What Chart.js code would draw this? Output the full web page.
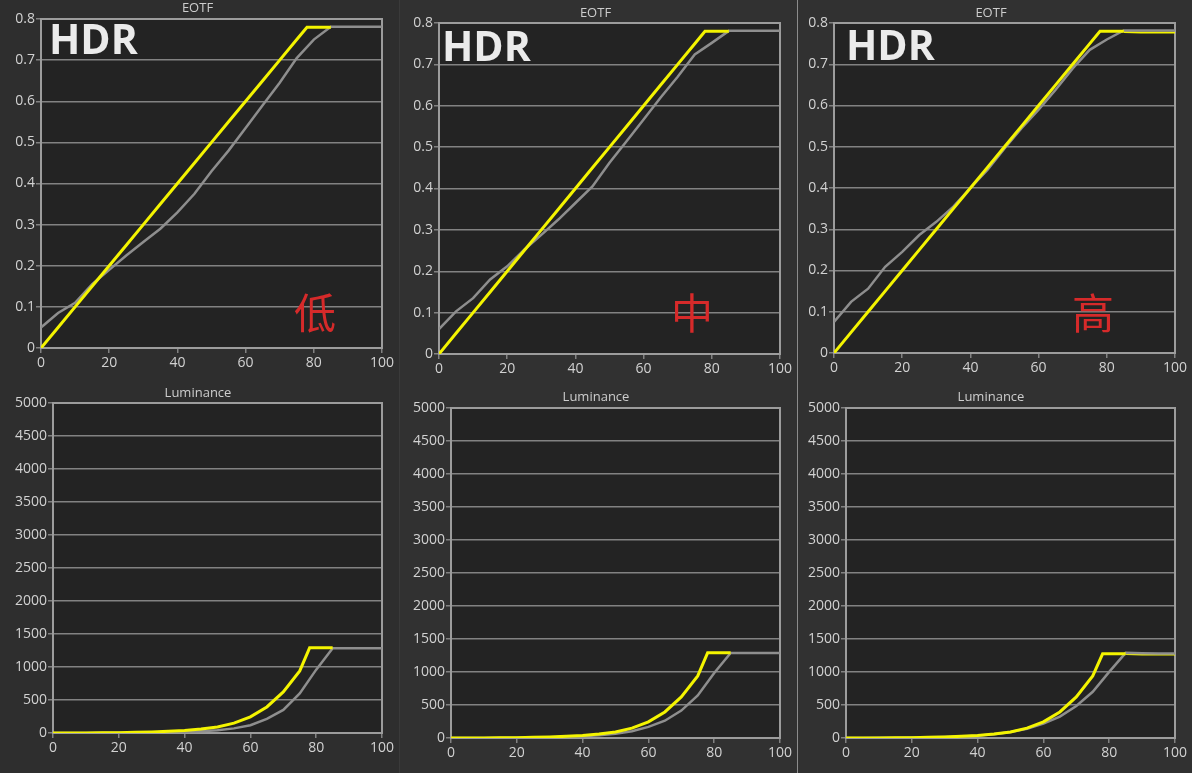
<!DOCTYPE html>
<html>
<head>
<meta charset="utf-8">
<script src="https://cdn.jsdelivr.net/npm/chart.js@4"></script>
<style>
html, body { margin: 0; padding: 0; }
body { width: 1192px; height: 773px; background: #313131; position: relative; overflow: hidden; }
canvas { position: absolute; }
.col1 { position: absolute; left: 0; top: 0; width: 399px; height: 773px; background: #2e2e2e; }
.sep { position: absolute; top: 0; width: 1px; height: 773px; }
.hdr { position: absolute; font: 700 41px/41px "Open Sans", sans-serif; color: #ebebeb; }
.lvl { position: absolute; width: 42px; text-align: center; font: 400 42px/42px "Noto Sans CJK SC", sans-serif; color: #d62a2a; }
</style>
</head>
<body>
<div class="col1"></div>
<div class="sep" style="left:399px;background:#3a3a3a"></div>
<div class="sep" style="left:797px;background:#8c8c8c"></div>

<canvas id="eotfLow" width="385" height="380" style="left:13px;top:0"></canvas>
<canvas id="lumLow" width="384" height="393" style="left:14px;top:380px"></canvas>
<canvas id="eotfMid" width="385" height="380" style="left:411px;top:0"></canvas>
<canvas id="lumMid" width="384" height="393" style="left:412px;top:380px"></canvas>
<canvas id="eotfHigh" width="385" height="380" style="left:807px;top:0"></canvas>
<canvas id="lumHigh" width="385" height="393" style="left:807px;top:380px"></canvas>

<div class="hdr" style="left:49px;top:18px">HDR</div>
<div class="hdr" style="left:442px;top:25px">HDR</div>
<div class="hdr" style="left:846px;top:24px">HDR</div>
<div class="lvl" style="left:294px;top:290px">低</div>
<div class="lvl" style="left:671px;top:290px">中</div>
<div class="lvl" style="left:1072px;top:290px">高</div>

<script>
// stimulus (%) for the measured grey curve and the yellow target curve
const stim = [0, 5, 10, 15, 20, 25, 30, 35, 40, 45, 50, 55, 60, 65, 70, 75, 80, 85, 90, 95, 100];
const target = [0, 5, 10, 15, 20, 25, 30, 35, 40, 45, 50, 55, 60, 65, 70, 75, 78, 85];
const targetTail = [85, 90, 95, 100];

const xTicks = [0, 20, 40, 60, 80, 100];
const eotfTicks = [0, 0.1, 0.2, 0.3, 0.4, 0.5, 0.6, 0.7, 0.8];
const lumTicks = [0, 500, 1000, 1500, 2000, 2500, 3000, 3500, 4000, 4500, 5000];

// EOTF
const targetEotf = [0, 0.05, 0.1, 0.15, 0.2, 0.25, 0.3, 0.35, 0.4, 0.45, 0.5, 0.55, 0.6, 0.65, 0.7, 0.75, 0.78, 0.78];
const grayEotfLow = [0.05, 0.085, 0.11, 0.155, 0.19, 0.225, 0.258, 0.29, 0.33, 0.375, 0.43, 0.48, 0.535, 0.59, 0.645, 0.705, 0.75, 0.781, 0.781, 0.781, 0.781];
const grayEotfMid = [0.06, 0.103, 0.135, 0.18, 0.212, 0.252, 0.288, 0.325, 0.365, 0.405, 0.462, 0.514, 0.567, 0.62, 0.67, 0.724, 0.752, 0.781, 0.781, 0.781, 0.781];
const grayEotfHigh = [0.075, 0.124, 0.156, 0.209, 0.245, 0.286, 0.318, 0.355, 0.4, 0.444, 0.496, 0.545, 0.59, 0.638, 0.69, 0.735, 0.76, 0.782, 0.782, 0.782, 0.782];
const tailEotfHigh = [0.778, 0.777, 0.777, 0.777];

// Luminance (cd/m2)
const targetLum = [0, 0.3, 1, 2.5, 5, 9.5, 16, 25, 39, 60, 92, 150, 244, 395, 622, 940, 1290, 1290];
const targetLumHigh = [0, 0.3, 1, 2.5, 5, 9.5, 16, 25, 39, 60, 92, 150, 244, 395, 622, 940, 1275, 1275];
const grayLumLow = [0.2, 0.5, 1, 2, 3, 5, 8, 11, 17, 26, 40, 70, 118, 215, 350, 600, 960, 1285, 1285, 1285, 1285];
const grayLumMid = [0.4, 0.8, 1.5, 2.5, 4, 6, 10, 16, 25, 40, 65, 103, 168, 262, 415, 645, 985, 1288, 1288, 1288, 1288];
const grayLumHigh = [0.6, 1.2, 2, 4, 6, 10, 15, 24, 36, 58, 90, 140, 218, 325, 485, 700, 1002, 1290, 1285, 1280, 1280];
const tailLumHigh = [1272, 1266, 1266, 1266];

const YELLOW = '#f4f400';
const GRAY = '#8e8e8e';
const GRID = '#828282';
const TICK = '#d2d2d2';
const FONT = '"Open Sans", sans-serif';

function pts(xs, ys) {
    return xs.map((x, i) => ({x: x, y: ys[i]}));
}

// dark plot background and the light frame round it
const frame = {
    id: 'frame',
    beforeDraw(chart) {
        const a = chart.chartArea, ctx = chart.ctx;
        ctx.save();
        ctx.fillStyle = '#232323';
        ctx.fillRect(a.left, a.top, a.right - a.left, a.bottom - a.top);
        ctx.restore();
    },
    beforeDatasetsDraw(chart) {
        const a = chart.chartArea, ctx = chart.ctx;
        ctx.save();
        ctx.strokeStyle = '#9c9c9c';
        ctx.lineWidth = 2;
        ctx.strokeRect(a.left, a.top, a.right - a.left, a.bottom - a.top);
        ctx.restore();
    }
};

// left/top/right/bottom = plot area in canvas px
function drawPanel(id, c) {
    const cv = document.getElementById(id);
    const W = cv.width, H = cv.height;
    const sets = [
        {data: pts(target, c.yellow), borderColor: YELLOW, borderWidth: 3},
        {data: pts(stim, c.gray), borderColor: GRAY, borderWidth: 2.5}
    ];
    if (c.tail) {
        sets.push({data: pts(targetTail, c.tail), borderColor: YELLOW, borderWidth: 2});
    }
    new Chart(cv, {
        type: 'line',
        data: {
            datasets: sets.map(d => Object.assign({pointRadius: 0, tension: 0, fill: false}, d))
        },
        options: {
            responsive: false,
            animation: false,
            events: [],
            layout: {padding: {left: 0, right: W - c.right, top: 0, bottom: H - c.bottom - 26}},
            plugins: {
                legend: {display: false},
                tooltip: {enabled: false},
                title: {
                    display: true,
                    text: c.title,
                    color: '#cdcdcd',
                    font: {family: FONT, size: 13, weight: 'normal'},
                    padding: {top: c.titleY - 7.8, bottom: c.top - c.titleY - 7.8}
                }
            },
            scales: {
                x: {
                    type: 'linear', min: 0, max: 100,
                    afterBuildTicks: s => { s.ticks = xTicks.map(v => ({value: v})); },
                    afterFit: s => { s.height = 26; },
                    grid: {drawOnChartArea: false, color: GRID, tickLength: 5, lineWidth: 1.5},
                    border: {display: false},
                    ticks: {color: TICK, font: {family: FONT, size: 14}, padding: 2, maxRotation: 0, autoSkip: false}
                },
                y: {
                    type: 'linear', min: 0, max: c.yTicks[c.yTicks.length - 1],
                    afterBuildTicks: s => { s.ticks = c.yTicks.map(v => ({value: v})); },
                    afterFit: s => { s.width = c.left; },
                    grid: {color: GRID, lineWidth: 1.5, tickLength: 5},
                    border: {display: false},
                    ticks: {color: TICK, font: {family: FONT, size: 14}, padding: 1, autoSkip: false,
                        callback: v => String(v)}
                }
            }
        },
        plugins: [frame]
    });
}

drawPanel('eotfLow', {title: 'EOTF', yTicks: eotfTicks, yellow: targetEotf, gray: grayEotfLow,
    left: 28, right: 369, top: 19, bottom: 348, titleY: 8});
drawPanel('lumLow', {title: 'Luminance', yTicks: lumTicks, yellow: targetLum, gray: grayLumLow,
    left: 39, right: 368, top: 23, bottom: 353, titleY: 13});
drawPanel('eotfMid', {title: 'EOTF', yTicks: eotfTicks, yellow: targetEotf, gray: grayEotfMid,
    left: 28, right: 369, top: 23, bottom: 354, titleY: 13});
drawPanel('lumMid', {title: 'Luminance', yTicks: lumTicks, yellow: targetLum, gray: grayLumMid,
    left: 39, right: 368, top: 28, bottom: 358, titleY: 17});
drawPanel('eotfHigh', {title: 'EOTF', yTicks: eotfTicks, yellow: targetEotf, gray: grayEotfHigh, tail: tailEotfHigh,
    left: 27, right: 368, top: 23, bottom: 353, titleY: 13});
drawPanel('lumHigh', {title: 'Luminance', yTicks: lumTicks, yellow: targetLumHigh, gray: grayLumHigh, tail: tailLumHigh,
    left: 39, right: 368, top: 28, bottom: 358, titleY: 17});
</script>
</body>
</html>
